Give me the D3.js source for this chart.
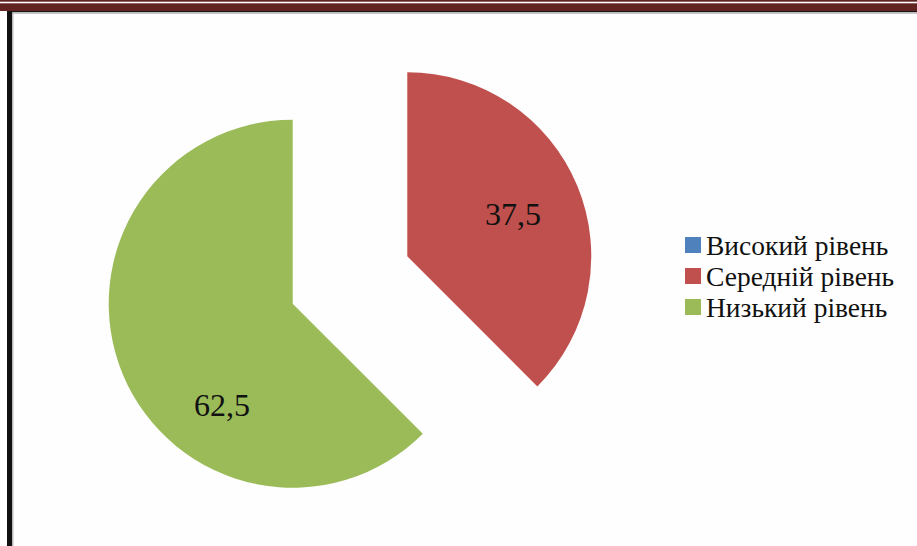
<!DOCTYPE html>
<html>
<head>
<meta charset="utf-8">
<script src="https://cdn.jsdelivr.net/npm/d3@7"></script>
<style>
  html, body { margin: 0; padding: 0; background: #fff; }
  svg { display: block; }
  .serif { font-family: 'Liberation Serif', 'Times New Roman', 'DejaVu Serif', serif; }
</style>
</head>
<body>
<svg id="chart" width="917" height="546"></svg>
<script>
// Data
const categories = ['Високий рівень', 'Середній рівень', 'Низький рівень'];
const values = [0, 37.5, 62.5];
const valueLabels = ['', '37,5', '62,5'];
const colors = ['#4F81BD', '#C0504D', '#9BBB59'];

// Layout
const W = 917, H = 546;
const cx = 350, cy = 280;
const radius = 184;
const explode = 62;
// where each value label sits: angle (deg, clockwise from top) and fraction of radius
const labelPlace = [null, { angle: 68, r: 0.62 }, { angle: 215, r: 0.67 }];

const svg = d3.select('#chart');

// ---- page frame (border lines) ----
svg.append('rect').attr('x', 0).attr('y', 0).attr('width', W).attr('height', H).attr('fill', '#fefefe');
svg.append('rect').attr('x', 0).attr('y', 0).attr('width', W).attr('height', 1.7).attr('fill', '#622423');
svg.append('rect').attr('x', 0).attr('y', 3.3).attr('width', W).attr('height', 7.7).attr('fill', '#622423');
svg.append('rect').attr('x', 7).attr('y', 11).attr('width', W - 7).attr('height', 1.4).attr('fill', '#1a1a1a');
svg.append('rect').attr('x', 12).attr('y', 12.4).attr('width', W - 12).attr('height', 1.6).attr('fill', '#c8c8c8');
svg.append('rect').attr('x', 7).attr('y', 11).attr('width', 5.3).attr('height', H - 11).attr('fill', '#111');
svg.append('rect').attr('x', 12.3).attr('y', 12.4).attr('width', 1.2).attr('height', H - 12).attr('fill', '#bdbdbd');

// ---- pie ----
const pie = d3.pie().sort(null).value(d => d);
const arcs = pie(values).map((a, i) => ({ ...a, i }));
const arc = d3.arc().innerRadius(0).outerRadius(radius);

const g = svg.append('g').attr('transform', `translate(${cx},${cy})`);

const slices = g.selectAll('.slice')
  .data(arcs.filter(a => a.endAngle - a.startAngle > 0))
  .join('g')
  .attr('class', 'slice')
  .attr('transform', d => {
    const mid = (d.startAngle + d.endAngle) / 2;
    return `translate(${Math.sin(mid) * explode},${-Math.cos(mid) * explode})`;
  });

slices.append('path')
  .attr('d', arc)
  .attr('fill', d => colors[d.i]);

slices.append('text')
  .attr('class', 'serif')
  .attr('x', d => Math.sin(labelPlace[d.i].angle * Math.PI / 180) * radius * labelPlace[d.i].r)
  .attr('y', d => -Math.cos(labelPlace[d.i].angle * Math.PI / 180) * radius * labelPlace[d.i].r)
  .attr('text-anchor', 'middle')
  .attr('dominant-baseline', 'central')
  .attr('font-size', 32)
  .attr('fill', '#111')
  .text(d => valueLabels[d.i]);

// ---- legend ----
const legend = svg.append('g').attr('transform', 'translate(685,245)');
const rowH = 31;
const items = legend.selectAll('.item')
  .data(categories)
  .join('g')
  .attr('class', 'item')
  .attr('transform', (d, i) => `translate(0,${i * rowH})`);

items.append('rect')
  .attr('x', 0).attr('y', -8)
  .attr('width', 16).attr('height', 16)
  .attr('fill', (d, i) => colors[i]);

items.append('text')
  .attr('class', 'serif')
  .attr('x', 21).attr('y', 0)
  .attr('dominant-baseline', 'central')
  .attr('font-size', 27.5)
  .attr('fill', '#111')
  .text(d => d);
</script>
</body>
</html>
